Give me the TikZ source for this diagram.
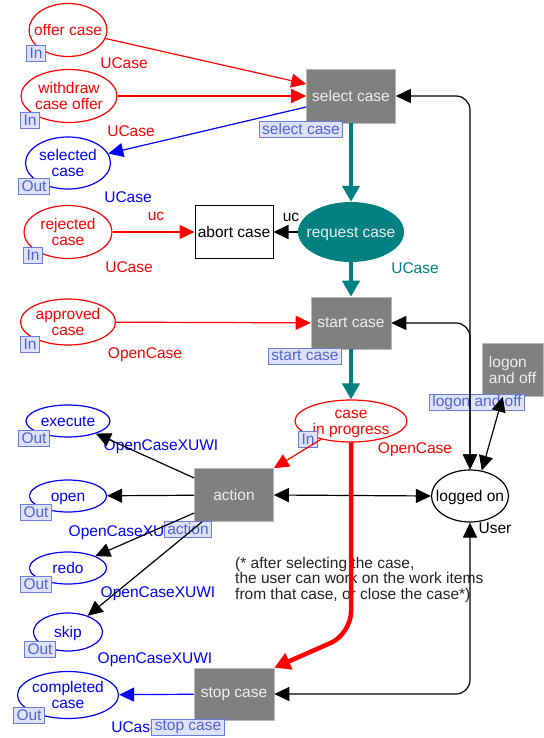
\documentclass[tikz,border=0pt]{standalone}
\usepackage{fontspec}
\setmainfont{Liberation Sans}
\usetikzlibrary{shapes.geometric,arrows.meta,calc}

\definecolor{cpnred}{RGB}{255,0,0}
\definecolor{cpnblue}{RGB}{0,0,255}
\definecolor{cpnteal}{RGB}{0,128,128}
\definecolor{transfill}{RGB}{128,128,128}
\definecolor{transline}{RGB}{185,185,185}
\definecolor{transtext}{RGB}{238,238,238}
\definecolor{tagfill}{RGB}{222,226,250}
\definecolor{tagline}{RGB}{105,125,225}
\definecolor{tagtext}{RGB}{80,100,215}
\definecolor{notetext}{RGB}{35,35,35}

% centred text that does not widen the place ellipse
\newcommand{\ptext}[1]{\makebox[0pt]{\raisebox{-5.8pt}[0pt][0pt]{\begin{tabular}{@{}c@{}}#1\end{tabular}}}}

\begin{document}
\begin{tikzpicture}[x=1pt,y=-1pt,
  every node/.style={font=\fontsize{15.5}{16}\selectfont},
  place/.style={ellipse, draw, line width=1.2pt, inner sep=0pt, fill=white},
  inplace/.style={place, draw=cpnred, text=cpnred},
  outplace/.style={place, draw=cpnblue, text=cpnblue},
  transition/.style={rectangle, fill=transfill, draw=transline, line width=0.6pt,
    text=transtext, align=center, inner sep=0pt},
  porttag/.style={rectangle, fill=tagfill, draw=tagline, line width=0.8pt,
    text=tagtext, inner xsep=3pt, inner ysep=0pt, minimum height=16pt},
  insc/.style={inner sep=0pt},
  >={Triangle[length=15pt,width=14pt]},
  flow/.style={line width=1.2pt, ->},
  both/.style={line width=1.2pt, <->, rounded corners=14pt},
  bold/.style={line width=4.5pt, -{Triangle[length=16pt,width=17pt]}},
]
\useasboundingbox (0,0) rectangle (543,738);

% ---------- places ----------
\node[inplace, minimum width=78pt, minimum height=53pt] (offer) at (68,30) {\ptext{offer case}};
\node[inplace, minimum width=96pt, minimum height=53pt] (withdraw) at (69,96) {\ptext{withdraw\\case offer}};
\node[outplace, minimum width=85pt, minimum height=52pt] (selected) at (68,163) {\ptext{selected\\case}};
\node[inplace, minimum width=88pt, minimum height=53pt] (rejected) at (68,232) {\ptext{rejected\\case}};
\node[inplace, minimum width=95pt, minimum height=46pt] (approved) at (68,322) {\ptext{approved\\case}};
\node[inplace, minimum width=112pt, minimum height=42pt] (progress) at (351,421) {\ptext{case\\in progress}};
\node[outplace, minimum width=84pt, minimum height=32pt] (execute) at (68,421) {\ptext{execute}};
\node[outplace, minimum width=77pt, minimum height=32pt] (open) at (68,496) {\ptext{open}};
\node[outplace, minimum width=77pt, minimum height=32pt] (redo) at (68,568) {\ptext{redo}};
\node[outplace, minimum width=69pt, minimum height=38pt] (skip) at (68,632) {\ptext{skip}};
\node[outplace, minimum width=101pt, minimum height=47pt] (completed) at (68,695) {\ptext{completed\\case}};
\node[place, minimum width=77pt, minimum height=52pt] (loggedon) at (470,496) {\ptext{logged on}};
\node[ellipse, fill=cpnteal, text=transtext, inner sep=0pt,
      minimum width=106pt, minimum height=60pt] (requestcase) at (351,232) {\ptext{request case}};

% ---------- transitions ----------
\node[transition, minimum width=89pt, minimum height=54pt] (selectcase) at (351,96) {select case};
\node[rectangle, draw=black, fill=white, line width=1pt, inner sep=0pt,
      minimum width=78pt, minimum height=53pt] (abortcase) at (234,232) {abort case};
\node[transition, minimum width=80pt, minimum height=52pt] (startcase) at (351,323) {start case};
\node[transition, align=left, minimum width=61pt, minimum height=53pt] (logon) at (512.5,370) {logon\\and off};
\node[transition, minimum width=79pt, minimum height=53pt] (action) at (234,495) {action};
\node[transition, minimum width=80pt, minimum height=52pt] (stopcase) at (234,694) {stop case};

% ---------- arc inscriptions ----------
\node[insc, text=cpnred] (i-offer) at (124,63) {UCase};
\node[insc, text=cpnred] (i-withdraw) at (131,131) {UCase};
\node[insc, text=cpnblue] (i-selected) at (128,197) {UCase};
\node[insc, text=cpnred] (i-rejected) at (156,216) {uc};
\node[insc, text=cpnred] (i-rejected2) at (129,267) {UCase};
\node[insc, text=black] (i-abort) at (291,217) {uc};
\node[insc, text=cpnteal] (i-request) at (415,268) {UCase};
\node[insc, text=cpnred] (i-approved) at (145,355) {OpenCase};
\node[insc, text=cpnred] (i-progress) at (415,450) {OpenCase};
\node[insc, text=cpnblue] (i-execute) at (161,447) {OpenCaseXUWI};
\node[insc, text=cpnblue] (i-redo) at (126,533) {OpenCaseXUWI};
\node[insc, text=cpnblue] (i-skip) at (158,594) {OpenCaseXUWI};
\node[insc, text=cpnblue] (i-stop) at (155,660) {OpenCaseXUWI};
\node[insc, text=cpnblue] (i-completed) at (135,727) {UCase};
\node[insc, text=black] (i-user) at (495,528) {User};

% ---------- comment ----------
\node[insc, text=notetext, align=left, anchor=north west,
      font=\fontsize{15.5}{15.5}\selectfont] (note) at (235,557)
  {(* after selecting the case,\\the user can work on the work items\\from that case, or close the case*)};

% ---------- port and substitution tags ----------
\node[porttag] (t-offer) at (36,53) {In};
\node[porttag] (t-withdraw) at (30,120) {In};
\node[porttag] (t-selected) at (34,186) {Out};
\node[porttag] (t-rejected) at (33,255) {In};
\node[porttag] (t-approved) at (30,344) {In};
\node[porttag] (t-progress) at (308,439) {In};
\node[porttag] (t-execute) at (34,438) {Out};
\node[porttag] (t-open) at (36,512) {Out};
\node[porttag] (t-redo) at (36,584) {Out};
\node[porttag] (t-skip) at (40,649) {Out};
\node[porttag] (t-completed) at (29,715) {Out};
\node[porttag] (t-selectcase) at (301,129) {select case};
\node[porttag] (t-startcase) at (305,356) {start case};
\node[porttag] (t-logon) at (477,402) {logon and off};
\node[porttag] (t-action) at (188,529) {action};
\node[porttag] (t-stopcase) at (188,727) {stop case};

% ---------- arcs ----------
\draw[flow, cpnred] (offer) -- ($(selectcase.west)+(0,-12)$);
\draw[flow, cpnred] (withdraw) -- (selectcase.west);
\draw[flow, cpnblue] ($(selectcase.west)+(0,11)$) -- (selected);
\draw[flow, cpnred] (rejected) -- (abortcase);
\draw[flow, black] (requestcase) -- (abortcase);
\draw[bold, cpnteal] (selectcase) -- (requestcase);
\draw[bold, cpnteal] (requestcase) -- (startcase);
\draw[flow, cpnred] (approved) -- (startcase);
\draw[bold, cpnteal] (startcase) -- (progress);
\draw[flow, cpnred] (progress) -- (action.north east);

\draw[flow, black] ($(action.west)+(0,-17)$) -- (execute);
\draw[flow, black] (action) -- (open);
\draw[flow, black] ($(action.west)+(0,18)$) -- (redo);
\draw[flow, black] ($(action.south west)+(8,0)$) -- (skip);
\draw[flow, cpnblue] (stopcase) -- (completed);

\draw[both, black] (selectcase.east) -| (loggedon.north);
\draw[both, black] (startcase.east) -| (loggedon.north);
\draw[both, black] (stopcase.east) -| (loggedon.south);
\draw[both, black] (action.east) -- (loggedon.west);
\draw[both, black] (loggedon.65) -- (logon.250);

\coordinate (bend) at (351,634);
\draw[bold, cpnred, rounded corners=22pt] (progress) -- (bend) -- (stopcase.north east);
\end{tikzpicture}
\end{document}
